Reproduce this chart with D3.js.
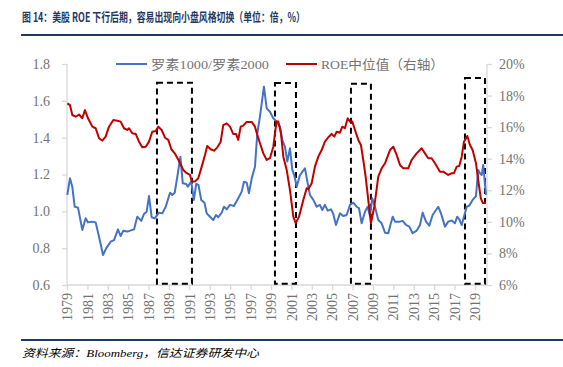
<!DOCTYPE html>
<html><head><meta charset="utf-8">
<script src="https://cdn.jsdelivr.net/npm/d3@7"></script>
<style>
html,body{margin:0;padding:0;background:#fff;}
svg{display:block;}
</style></head>
<body>
<svg id="c" width="563" height="367"></svg>
<script>
// ---- data ----
const titleText = "图 14：美股 ROE 下行后期，容易出现向小盘风格切换（单位：倍，%）";
const sourceText = "资料来源：Bloomberg，信达证券研发中心";
const legendLabels = ["罗素1000/罗素2000", "ROE中位值（右轴）"];
const xTickYears = [1979,1981,1983,1985,1987,1989,1991,1993,1995,1997,1999,2001,2003,2005,2007,2009,2011,2013,2015,2017,2019];
const leftTicks = [0.6,0.8,1.0,1.2,1.4,1.6,1.8];
const rightTicks = [6,8,10,12,14,16,18,20];

const ratioYears = [1979.03,1979.29,1979.52,1979.75,1980.08,1980.5,1980.83,1981.06,1981.48,1981.81,1982.14,1982.53,1982.85,1983.28,1983.61,1984.0,1984.26,1984.52,1984.91,1985.57,1985.89,1986.28,1986.55,1986.81,1987.04,1987.3,1987.6,1988.02,1988.34,1988.68,1989.1,1989.32,1989.56,1989.85,1990.12,1990.35,1990.69,1990.85,1991.18,1991.44,1991.67,1991.89,1992.16,1992.48,1992.7,1993.02,1993.34,1993.61,1993.83,1994.17,1994.39,1994.66,1994.98,1995.37,1995.79,1996.13,1996.35,1996.62,1996.84,1997.11,1997.43,1997.66,1997.92,1998.31,1998.58,1998.9,1999.23,1999.56,1999.88,2000.11,2000.37,2000.6,2000.86,2001.09,2001.28,2001.52,2001.84,2002.33,2002.6,2002.82,2003.15,2003.48,2003.8,2004.03,2004.29,2004.56,2004.88,2005.11,2005.37,2005.76,2006.09,2006.42,2006.75,2007.07,2007.4,2007.63,2007.89,2008.22,2008.48,2008.71,2008.93,2009.2,2009.52,2009.85,2010.18,2010.5,2010.67,2010.93,2011.16,2011.65,2011.91,2012.24,2012.56,2012.89,2013.28,2013.61,2013.87,2014.2,2014.52,2014.85,2015.18,2015.4,2015.67,2016.06,2016.38,2016.72,2017.04,2017.26,2017.46,2017.7,2017.92,2018.19,2018.44,2018.77,2019.1,2019.32,2019.49,2019.66,2019.81,2020.08];
const ratioValues = [1.089,1.179,1.134,1.025,1.02,0.899,0.962,0.94,0.944,0.94,0.862,0.763,0.80,0.835,0.844,0.902,0.866,0.895,0.89,0.902,0.971,0.948,0.986,0.998,1.083,0.968,0.962,0.993,0.989,1.025,1.101,1.089,1.101,1.20,1.297,1.152,1.149,1.134,1.161,1.062,1.149,1.143,1.062,1.047,0.989,0.971,0.953,0.98,0.968,0.993,1.025,1.011,1.035,1.029,1.071,1.107,1.161,1.156,1.098,1.179,1.242,1.424,1.514,1.677,1.559,1.541,1.505,1.487,1.46,1.387,1.351,1.27,1.342,1.225,1.197,1.134,1.197,1.234,1.152,1.089,1.062,1.025,1.035,1.007,1.035,1.004,1.011,0.986,0.926,0.989,0.975,0.98,1.035,1.047,1.025,1.017,0.935,0.998,1.025,0.975,1.071,1.025,0.953,0.935,0.884,0.881,0.917,0.971,0.944,0.944,0.948,0.926,0.917,0.881,0.895,0.926,0.993,0.944,0.922,0.98,1.007,1.025,0.989,0.917,0.944,0.95,0.935,0.971,0.957,0.926,0.971,1.025,1.031,1.062,1.083,1.225,1.207,1.197,1.252,1.089];

const roeYears = [1979.03,1979.29,1979.52,1979.85,1980.18,1980.5,1980.76,1981.06,1981.48,1981.81,1982.14,1982.46,1982.79,1983.12,1983.54,1983.93,1984.26,1984.59,1984.91,1985.08,1985.4,1985.74,1986.06,1986.38,1986.72,1987.04,1987.36,1987.7,1987.95,1988.28,1988.61,1988.93,1989.23,1989.56,1989.88,1990.08,1990.4,1990.74,1991.06,1991.23,1991.55,1991.87,1992.21,1992.53,1992.75,1993.09,1993.41,1993.74,1994.07,1994.32,1994.66,1994.98,1995.3,1995.57,1995.79,1996.03,1996.28,1996.62,1997.11,1997.43,1997.66,1997.92,1998.25,1998.58,1998.9,1999.23,1999.54,1999.72,1999.98,2000.21,2000.54,2000.86,2001.19,2001.42,2001.75,2002.17,2002.5,2002.66,2002.99,2003.31,2003.64,2003.97,2004.29,2004.62,2004.95,2005.21,2005.44,2005.76,2005.99,2006.25,2006.52,2006.75,2006.97,2007.24,2007.56,2007.82,2008.05,2008.28,2008.54,2008.8,2009.13,2009.52,2009.85,2010.18,2010.67,2010.99,2011.32,2011.65,2011.97,2012.46,2012.79,2013.28,2013.77,2014.1,2014.42,2014.75,2015.08,2015.57,2015.89,2016.38,2016.72,2016.94,2017.21,2017.46,2017.7,2017.92,2018.25,2018.51,2018.77,2019.1,2019.32,2019.57,2019.76,2020.08];
const roeValues = [17.51,17.4,16.77,16.66,16.8,16.56,17.08,16.56,16.03,15.93,15.3,15.15,15.4,16.03,16.45,16.4,16.35,15.93,15.82,15.93,15.61,15.57,15.08,14.72,14.76,15.08,15.71,15.76,16.03,15.82,15.33,15.19,14.6,14.34,13.98,13.71,13.29,13.08,12.97,12.55,12.55,12.76,13.5,14.24,14.81,14.6,14.51,14.72,15.08,16.13,16.24,16.03,15.57,15.57,15.19,16.03,16.1,16.33,16.33,16.03,15.5,14.98,14.34,13.92,14.03,14.76,16.35,16.35,15.6,14.13,13.29,12.02,10.33,9.91,10.33,11.39,12.13,12.07,12.45,13.5,14.13,14.55,15.08,15.36,15.57,15.4,15.71,15.65,16.03,15.93,16.56,16.35,16.35,15.82,15.19,14.87,13.92,12.86,11.39,9.91,10.96,12.86,13.39,13.71,14.55,14.76,14.24,13.6,13.39,13.39,13.92,14.34,14.66,14.34,14.03,14.03,13.71,13.18,13.18,12.97,13.08,13.08,13.5,13.54,14.13,15.08,15.44,14.87,14.55,13.71,12.65,11.5,11.2,11.2];

// highlight boxes: start year, end year, top (left-axis value)
const boxStarts = [1987.82, 1999.39, 2006.84, 2018.02];
const boxEnds = [1991.25, 2001.45, 2008.80, 2019.98];
const boxTops = [1.698, 1.697, 1.693, 1.724];
const boxBottom = 0.607;

// ---- drawing ----
const svg = d3.select("#c");
const X0 = 67, X1 = 487, Y0 = 285, Y1 = 64;
const x = d3.scaleLinear().domain([1979, 2020.18]).range([X0, X1]);
const yL = d3.scaleLinear().domain([0.6, 1.8]).range([Y0, Y1]);
const yR = d3.scaleLinear().domain([6, 20]).range([Y0, Y1]);

const axisColor = "#d9d9d9";
const labelColor = "#737373";
const serif = "'Liberation Serif','DejaVu Serif',serif";
const cjk = "'Liberation Serif','Noto Sans CJK SC',serif";

// title
svg.append("text").attr("x", 22).attr("y", 22)
  .attr("font-family", "'Noto Sans CJK SC',sans-serif").attr("font-weight", "bold")
  .attr("font-size", 12.5).attr("fill", "#1f3864")
  .attr("textLength", 283).attr("lengthAdjust", "spacingAndGlyphs")
  .text(titleText);
svg.append("line").attr("x1", 21).attr("x2", 563).attr("y1", 35).attr("y2", 35)
  .attr("stroke", "#203864").attr("stroke-width", 2);

// axes
const gL = svg.append("g").attr("transform", `translate(${X0},0)`)
  .call(d3.axisLeft(yL).tickValues(leftTicks).tickFormat(d3.format(".1f")).tickSize(5).tickPadding(12));
const gR = svg.append("g").attr("transform", `translate(${X1},0)`)
  .call(d3.axisRight(yR).tickValues(rightTicks).tickFormat(d => d + "%").tickSize(5).tickPadding(7));
const gB = svg.append("g").attr("transform", `translate(0,${Y0})`)
  .call(d3.axisBottom(x).tickValues(xTickYears).tickFormat(d3.format("d")).tickSize(5));
[gL, gR, gB].forEach(g => {
  g.selectAll("path,line").attr("stroke", axisColor).attr("stroke-width", 1.3);
  g.selectAll("text").attr("fill", labelColor).attr("font-family", serif).attr("font-size", 14);
});
gL.select(".domain").attr("d", `M0,${Y0}V${Y1}`);
gR.select(".domain").attr("d", `M0,${Y0}V${Y1}`);
gB.select(".domain").attr("d", `M${X0},0H${X1}`);
gB.selectAll("text").attr("transform", "rotate(-90)")
  .attr("text-anchor", "end").attr("x", -8).attr("y", 0).attr("dy", "0.33em");

// dashed boxes
svg.append("g").selectAll("rect").data(boxStarts).join("rect")
  .attr("x", (d, i) => x(d)).attr("width", (d, i) => x(boxEnds[i]) - x(d))
  .attr("y", (d, i) => yL(boxTops[i])).attr("height", (d, i) => yL(boxBottom) - yL(boxTops[i]))
  .attr("fill", "none").attr("stroke", "#000").attr("stroke-width", 2).attr("stroke-dasharray", "6,4");

// lines
const ratio = ratioYears.map((t, i) => [t, ratioValues[i]]);
const roe = roeYears.map((t, i) => [t, roeValues[i]]);
svg.append("path").datum(ratio).attr("fill", "none").attr("stroke", "#4472c4").attr("stroke-width", 2)
  .attr("stroke-linejoin", "round")
  .attr("d", d3.line().x(d => x(d[0])).y(d => yL(d[1])));
svg.append("path").datum(roe).attr("fill", "none").attr("stroke", "#c00000").attr("stroke-width", 2)
  .attr("stroke-linejoin", "round")
  .attr("d", d3.line().x(d => x(d[0])).y(d => yR(d[1])));

// legend
const legColors = ["#4472c4", "#c00000"];
const legX = [116, 286];
const legW = [118, 123];
legendLabels.forEach((lab, i) => {
  svg.append("line").attr("x1", legX[i]).attr("x2", legX[i] + 31).attr("y1", 64).attr("y2", 64)
    .attr("stroke", legColors[i]).attr("stroke-width", 2);
  svg.append("text").attr("x", legX[i] + 35).attr("y", 69)
    .attr("font-family", cjk).attr("font-size", 13).attr("fill", labelColor)
    .attr("textLength", legW[i]).attr("lengthAdjust", "spacingAndGlyphs")
    .text(lab);
});

// bottom rule and source
svg.append("line").attr("x1", 21).attr("x2", 563).attr("y1", 340).attr("y2", 340)
  .attr("stroke", "#203864").attr("stroke-width", 2);
svg.append("text").attr("x", 22).attr("y", 357)
  .attr("font-family", "'Liberation Serif','Noto Sans CJK SC',serif").attr("font-style", "italic")
  .attr("font-size", 11).attr("fill", "#000")
  .attr("textLength", 237).attr("lengthAdjust", "spacingAndGlyphs")
  .text(sourceText);
</script>
</body></html>
